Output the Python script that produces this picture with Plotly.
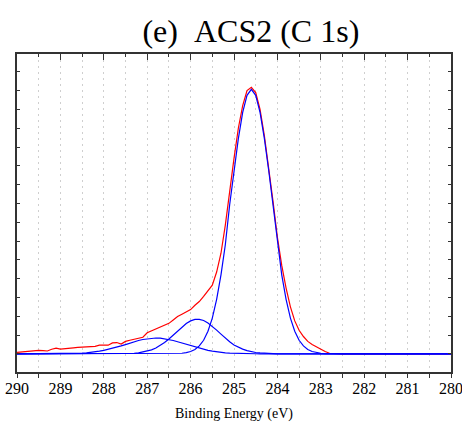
import plotly.graph_objects as go

# Binding energy grid (eV), 290 -> 280 in 0.1 eV steps
binding_energy = [round(290 - 0.1 * i, 1) for i in range(101)]

# Raw spectrum (red), intensity in thousands of counts
raw_counts = [
    0.08, 0.10, 0.12, 0.16, 0.19, 0.18, 0.17, 0.15, 0.24, 0.30,
    0.25, 0.26, 0.29, 0.32, 0.34, 0.35, 0.37, 0.37, 0.40, 0.46,
    0.45, 0.46, 0.58, 0.60, 0.52, 0.66, 0.72, 0.76, 0.80, 0.88,
    1.12, 1.22, 1.29, 1.40, 1.52, 1.62, 1.80, 1.98, 2.10, 2.22,
    2.35, 2.58, 2.78, 3.05, 3.38, 3.65, 4.35, 5.35, 6.85, 8.70,
    10.40, 12.00, 13.20, 14.00, 14.18, 13.90, 13.00, 11.60, 9.90, 8.10,
    6.20, 4.70, 3.50, 2.50, 1.75, 1.25, 0.92, 0.66, 0.50, 0.36,
    0.24, 0.12, 0.03, 0.01,
] + [0.0] * 27

# Fitted component 1 (C-C, ~284.6 eV)
peak_cc = [0.0] * 37 + [
    0.01, 0.03, 0.06, 0.12, 0.23, 0.42, 0.72, 1.20, 1.90, 2.90,
    4.20, 5.80, 7.93, 9.75, 11.45, 12.84, 13.75, 14.07, 13.75, 12.84,
    11.45, 9.75, 7.93, 5.80, 4.20, 2.90, 1.90, 1.20, 0.72, 0.42,
    0.23, 0.12, 0.06, 0.03, 0.01,
] + [0.0] * 29

# Fitted component 2 (C-O, ~285.8 eV)
peak_co = [0.0] * 25 + [
    0.01, 0.02, 0.03, 0.05, 0.09, 0.14, 0.21, 0.31, 0.44, 0.60,
    0.79, 1.00, 1.22, 1.43, 1.61, 1.75, 1.83, 1.83, 1.77, 1.64,
    1.47, 1.26, 1.05, 0.83, 0.64, 0.47, 0.35, 0.25, 0.17, 0.11,
    0.07, 0.05, 0.03, 0.02, 0.01,
] + [0.0] * 41

# Fitted component 3 (C=O, ~286.8 eV)
peak_cdo = [0.0] * 9 + [
    0.002, 0.004, 0.007, 0.011, 0.017, 0.025, 0.037, 0.053, 0.074, 0.10,
    0.14, 0.18, 0.23, 0.28, 0.35, 0.42, 0.49, 0.57, 0.64, 0.71,
    0.76, 0.80, 0.83, 0.84, 0.83, 0.80, 0.76, 0.71, 0.64, 0.57,
    0.49, 0.42, 0.35, 0.28, 0.23, 0.18, 0.14, 0.10, 0.074, 0.053,
    0.037, 0.025, 0.017, 0.011, 0.007, 0.004, 0.002,
] + [0.0] * 45

serif = "Liberation Serif, Times New Roman, serif"
grid_col = "#cfcfcf"
axis_col = "#333333"

fig = go.Figure()
fig.add_trace(go.Scatter(x=binding_energy, y=raw_counts, mode="lines",
                         line=dict(color="#ff0000", width=1.2), showlegend=False))
for comp in (peak_cdo, peak_co, peak_cc):
    fig.add_trace(go.Scatter(x=binding_energy, y=comp, mode="lines",
                             line=dict(color="#0000ff", width=1.2), showlegend=False))
# empty trace so the top axis is drawn
fig.add_trace(go.Scatter(x=[], y=[], xaxis="x2", showlegend=False))

fig.update_layout(
    width=462, height=428,
    margin=dict(l=17, r=11, t=54, b=56, autoexpand=False),
    plot_bgcolor="white", paper_bgcolor="white",
    showlegend=False,
    title=dict(text="(e)\u00a0\u00a0ACS2 (C 1s)", x=0.543, xref="container", xanchor="center",
               y=1 - 31 / 428, yref="container", yanchor="middle",
               font=dict(family=serif, size=32, color="black")),
    xaxis=dict(
        range=[290, 280], tick0=290, dtick=1, automargin=False,
        ticklabeloverflow="allow", ticklabelstandoff=-3,
        ticks="outside", ticklen=4, tickwidth=1.3, tickcolor=axis_col,
        showline=True, linewidth=2, linecolor=axis_col, mirror=False,
        showgrid=True, gridcolor=grid_col, gridwidth=1, griddash="2px,4px",
        zeroline=False,
        minor=dict(dtick=0.5, ticks="outside", ticklen=4, tickwidth=1.3, tickcolor=axis_col,
                   showgrid=True, gridcolor=grid_col, gridwidth=1, griddash="2px,4px"),
        tickfont=dict(family=serif, size=16, color="black"),
        title=dict(text="Binding Energy (eV)", font=dict(family=serif, size=14, color="black"),
                   standoff=12),
    ),
    xaxis2=dict(
        overlaying="x", side="top", anchor="y", range=[290, 280], tick0=290, dtick=1,
        automargin=False,
        ticks="inside", ticklen=6, tickwidth=1.3, tickcolor=axis_col,
        showticklabels=False, showline=True, linewidth=1.5, linecolor=axis_col,
        showgrid=False, zeroline=False,
        minor=dict(dtick=0.5, ticks="inside", ticklen=3, tickwidth=1.3, tickcolor=axis_col,
                   showgrid=False),
    ),
    yaxis=dict(
        range=[-0.968, 15.95], tick0=0, dtick=1, automargin=False,
        ticks="inside", ticklen=3, tickwidth=1.2, tickcolor=axis_col,
        showticklabels=False, showline=True, linewidth=2, linecolor=axis_col,
        mirror="ticks", showgrid=False, zeroline=False,
    ),
)

# remove the default 8px page margin so the figure sits at the window's top-left corner
fig.write_html("out.html", config={"displayModeBar": False},
               post_script="document.body.style.margin='0';")
